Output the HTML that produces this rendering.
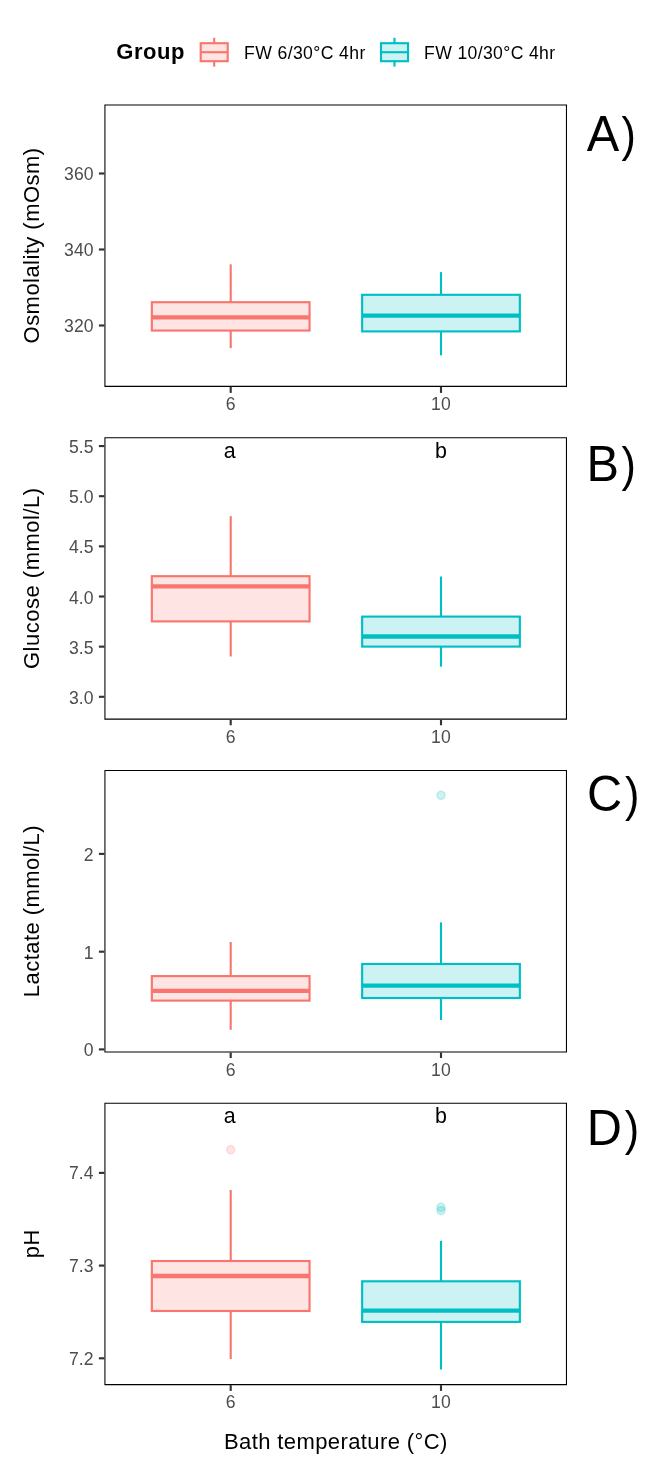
<!DOCTYPE html>
<html><head><meta charset="utf-8"><title>Figure</title>
<style>
html,body{margin:0;padding:0;background:#fff;}
svg{display:block;}
text{font-family:"Liberation Sans",sans-serif;}
.tk{font-size:17.6px;fill:#4D4D4D;letter-spacing:0.15px;}
.ti{font-size:22px;fill:#000;letter-spacing:0.4px;}
.tag{font-size:49.7px;fill:#000;}
.par{font-size:48px;fill:#000;}
.lt{font-size:21.4px;fill:#000;}
.lg{font-size:17.6px;fill:#000;letter-spacing:0.4px;}
.lgt{font-size:22px;font-weight:bold;fill:#000;letter-spacing:0.55px;}
</style></head><body>
<svg width="651" height="1476" viewBox="0 0 651 1476">
<rect x="0" y="0" width="651" height="1476" fill="#fff"/>

<text class="lgt" x="116.3" y="59.3">Group</text>
<g stroke="#F8766D" stroke-width="2.13" fill="none"><line x1="214.2" y1="37.8" x2="214.2" y2="43.2"/><line x1="214.2" y1="61.2" x2="214.2" y2="66.6"/><rect x="200.7" y="43.2" width="27" height="18" fill="#F8766D" fill-opacity="0.2"/><line x1="200.7" y1="52.2" x2="227.7" y2="52.2"/></g>
<text class="lg" x="244" y="58.5">FW 6/30°C 4hr</text>
<g stroke="#00BFC4" stroke-width="2.13" fill="none"><line x1="394.5" y1="37.8" x2="394.5" y2="43.2"/><line x1="394.5" y1="61.2" x2="394.5" y2="66.6"/><rect x="381" y="43.2" width="27" height="18" fill="#00BFC4" fill-opacity="0.2"/><line x1="381" y1="52.2" x2="408" y2="52.2"/></g>
<text class="lg" x="424.1" y="58.5" style="letter-spacing:0.36px">FW 10/30°C 4hr</text>
<!-- panel A -->
<g stroke="#F8766D" stroke-width="2.13" fill="none">
<line x1="230.7" y1="264.3" x2="230.7" y2="302.2"/>
<line x1="230.7" y1="330.55" x2="230.7" y2="348.1"/>
<rect x="151.85" y="302.2" width="157.7" height="28.35" fill="#F8766D" fill-opacity="0.2"/>
<line x1="151.85" y1="317.45" x2="309.55" y2="317.45" stroke-width="4.26"/>
</g>
<g stroke="#00BFC4" stroke-width="2.13" fill="none">
<line x1="441" y1="272.1" x2="441" y2="294.8"/>
<line x1="441" y1="331.4" x2="441" y2="355.3"/>
<rect x="362.15" y="294.8" width="157.7" height="36.6" fill="#00BFC4" fill-opacity="0.2"/>
<line x1="362.15" y1="315.6" x2="519.85" y2="315.6" stroke-width="4.26"/>
</g>
<path fill="#000" fill-rule="evenodd" d="M104.4 104.4H567V386.9H104.4Z M105.47 105.47H565.93V385.83H105.47Z"/>
<line x1="98.9" y1="173.5" x2="104.4" y2="173.5" stroke="#333" stroke-width="2.13"/>
<text class="tk" x="93.8" y="179.7" text-anchor="end">360</text>
<line x1="98.9" y1="249.5" x2="104.4" y2="249.5" stroke="#333" stroke-width="2.13"/>
<text class="tk" x="93.8" y="255.7" text-anchor="end">340</text>
<line x1="98.9" y1="325.5" x2="104.4" y2="325.5" stroke="#333" stroke-width="2.13"/>
<text class="tk" x="93.8" y="331.7" text-anchor="end">320</text>
<line x1="230.7" y1="386.9" x2="230.7" y2="392.9" stroke="#333" stroke-width="2.13"/>
<text class="tk" x="230.7" y="410.3" text-anchor="middle">6</text>
<line x1="441" y1="386.9" x2="441" y2="392.9" stroke="#333" stroke-width="2.13"/>
<text class="tk" x="441" y="410.3" text-anchor="middle">10</text>
<text class="ti" style="letter-spacing:0.45px" transform="translate(38.8,245.45) rotate(-90)" text-anchor="middle">Osmolality (mOsm)</text>
<text class="tag" transform="translate(586.8,151) scale(0.98,1)">A</text>
<text class="par" transform="translate(621.5,151) scale(0.9,1)">)</text>
<!-- panel B -->
<g stroke="#F8766D" stroke-width="2.13" fill="none">
<line x1="230.7" y1="516.1" x2="230.7" y2="576.2"/>
<line x1="230.7" y1="621.4" x2="230.7" y2="656.5"/>
<rect x="151.85" y="576.2" width="157.7" height="45.2" fill="#F8766D" fill-opacity="0.2"/>
<line x1="151.85" y1="586.3" x2="309.55" y2="586.3" stroke-width="4.26"/>
</g>
<g stroke="#00BFC4" stroke-width="2.13" fill="none">
<line x1="441" y1="576.5" x2="441" y2="616.6"/>
<line x1="441" y1="646.6" x2="441" y2="666.7"/>
<rect x="362.15" y="616.6" width="157.7" height="30" fill="#00BFC4" fill-opacity="0.2"/>
<line x1="362.15" y1="636.5" x2="519.85" y2="636.5" stroke-width="4.26"/>
</g>
<text class="lt" x="229.7" y="457.95" text-anchor="middle">a</text>
<text class="lt" x="441" y="457.95" text-anchor="middle">b</text>
<path fill="#000" fill-rule="evenodd" d="M104.4 437.15H567V719.65H104.4Z M105.47 438.22H565.93V718.58H105.47Z"/>
<line x1="98.9" y1="446.05" x2="104.4" y2="446.05" stroke="#333" stroke-width="2.13"/>
<text class="tk" x="93.8" y="453.15" text-anchor="end">5.5</text>
<line x1="98.9" y1="496.2" x2="104.4" y2="496.2" stroke="#333" stroke-width="2.13"/>
<text class="tk" x="93.8" y="503.3" text-anchor="end">5.0</text>
<line x1="98.9" y1="546.35" x2="104.4" y2="546.35" stroke="#333" stroke-width="2.13"/>
<text class="tk" x="93.8" y="553.45" text-anchor="end">4.5</text>
<line x1="98.9" y1="596.5" x2="104.4" y2="596.5" stroke="#333" stroke-width="2.13"/>
<text class="tk" x="93.8" y="603.6" text-anchor="end">4.0</text>
<line x1="98.9" y1="646.65" x2="104.4" y2="646.65" stroke="#333" stroke-width="2.13"/>
<text class="tk" x="93.8" y="653.75" text-anchor="end">3.5</text>
<line x1="98.9" y1="696.8" x2="104.4" y2="696.8" stroke="#333" stroke-width="2.13"/>
<text class="tk" x="93.8" y="703.9" text-anchor="end">3.0</text>
<line x1="230.7" y1="719.65" x2="230.7" y2="725.25" stroke="#333" stroke-width="2.13"/>
<text class="tk" x="230.7" y="743.05" text-anchor="middle">6</text>
<line x1="441" y1="719.65" x2="441" y2="725.25" stroke="#333" stroke-width="2.13"/>
<text class="tk" x="441" y="743.05" text-anchor="middle">10</text>
<text class="ti" style="letter-spacing:0.5px" transform="translate(38.8,578.2) rotate(-90)" text-anchor="middle">Glucose (mmol/L)</text>
<text class="tag" transform="translate(586.4,480.8) scale(0.98,1)">B</text>
<text class="par" transform="translate(621.5,480.8) scale(0.9,1)">)</text>
<!-- panel C -->
<g stroke="#F8766D" stroke-width="2.13" fill="none">
<line x1="230.7" y1="942" x2="230.7" y2="976.1"/>
<line x1="230.7" y1="1000.6" x2="230.7" y2="1029.8"/>
<rect x="151.85" y="976.1" width="157.7" height="24.5" fill="#F8766D" fill-opacity="0.2"/>
<line x1="151.85" y1="990.8" x2="309.55" y2="990.8" stroke-width="4.26"/>
</g>
<circle cx="441" cy="795.35" r="4.1" fill="#00BFC4" fill-opacity="0.2" stroke="#00BFC4" stroke-opacity="0.2" stroke-width="1.4"/>
<g stroke="#00BFC4" stroke-width="2.13" fill="none">
<line x1="441" y1="922.4" x2="441" y2="964"/>
<line x1="441" y1="998" x2="441" y2="1020"/>
<rect x="362.15" y="964" width="157.7" height="34" fill="#00BFC4" fill-opacity="0.2"/>
<line x1="362.15" y1="985.7" x2="519.85" y2="985.7" stroke-width="4.26"/>
</g>
<path fill="#000" fill-rule="evenodd" d="M104.4 770H567V1052.5H104.4Z M105.47 771.07H565.93V1051.43H105.47Z"/>
<line x1="98.9" y1="853.9" x2="104.4" y2="853.9" stroke="#333" stroke-width="2.13"/>
<text class="tk" x="93.8" y="860.95" text-anchor="end">2</text>
<line x1="98.9" y1="951.7" x2="104.4" y2="951.7" stroke="#333" stroke-width="2.13"/>
<text class="tk" x="93.8" y="958.75" text-anchor="end">1</text>
<line x1="98.9" y1="1049.4" x2="104.4" y2="1049.4" stroke="#333" stroke-width="2.13"/>
<text class="tk" x="93.8" y="1056.45" text-anchor="end">0</text>
<line x1="230.7" y1="1052.5" x2="230.7" y2="1058" stroke="#333" stroke-width="2.13"/>
<text class="tk" x="230.7" y="1075.8" text-anchor="middle">6</text>
<line x1="441" y1="1052.5" x2="441" y2="1058" stroke="#333" stroke-width="2.13"/>
<text class="tk" x="441" y="1075.8" text-anchor="middle">10</text>
<text class="ti" style="letter-spacing:0.45px" transform="translate(38.9,911.05) rotate(-90)" text-anchor="middle">Lactate (mmol/L)</text>
<text class="tag" transform="translate(586.9,811.05) scale(0.98,1)">C</text>
<text class="par" transform="translate(624.9,811.05) scale(0.9,1)">)</text>
<!-- panel D -->
<circle cx="230.7" cy="1149.65" r="4.1" fill="#F8766D" fill-opacity="0.2" stroke="#F8766D" stroke-opacity="0.2" stroke-width="1.4"/>
<g stroke="#F8766D" stroke-width="2.13" fill="none">
<line x1="230.7" y1="1190" x2="230.7" y2="1261"/>
<line x1="230.7" y1="1311" x2="230.7" y2="1359"/>
<rect x="151.85" y="1261" width="157.7" height="50" fill="#F8766D" fill-opacity="0.2"/>
<line x1="151.85" y1="1276" x2="309.55" y2="1276" stroke-width="4.26"/>
</g>
<circle cx="441" cy="1207.4" r="4.1" fill="#00BFC4" fill-opacity="0.2" stroke="#00BFC4" stroke-opacity="0.2" stroke-width="1.4"/>
<circle cx="441" cy="1210.7" r="4.1" fill="#00BFC4" fill-opacity="0.2" stroke="#00BFC4" stroke-opacity="0.2" stroke-width="1.4"/>
<g stroke="#00BFC4" stroke-width="2.13" fill="none">
<line x1="441" y1="1240.8" x2="441" y2="1281.3"/>
<line x1="441" y1="1321.9" x2="441" y2="1369.5"/>
<rect x="362.15" y="1281.3" width="157.7" height="40.6" fill="#00BFC4" fill-opacity="0.2"/>
<line x1="362.15" y1="1310.6" x2="519.85" y2="1310.6" stroke-width="4.26"/>
</g>
<text class="lt" x="229.7" y="1122.95" text-anchor="middle">a</text>
<text class="lt" x="441" y="1122.95" text-anchor="middle">b</text>
<path fill="#000" fill-rule="evenodd" d="M104.4 1102.65H567V1385.15H104.4Z M105.47 1103.72H565.93V1384.08H105.47Z"/>
<line x1="98.9" y1="1172.9" x2="104.4" y2="1172.9" stroke="#333" stroke-width="2.13"/>
<text class="tk" x="93.8" y="1179.3" text-anchor="end">7.4</text>
<line x1="98.9" y1="1265.6" x2="104.4" y2="1265.6" stroke="#333" stroke-width="2.13"/>
<text class="tk" x="93.8" y="1272" text-anchor="end">7.3</text>
<line x1="98.9" y1="1358.3" x2="104.4" y2="1358.3" stroke="#333" stroke-width="2.13"/>
<text class="tk" x="93.8" y="1364.7" text-anchor="end">7.2</text>
<line x1="230.7" y1="1385.15" x2="230.7" y2="1390.9" stroke="#333" stroke-width="2.13"/>
<text class="tk" x="230.7" y="1407.65" text-anchor="middle">6</text>
<line x1="441" y1="1385.15" x2="441" y2="1390.9" stroke="#333" stroke-width="2.13"/>
<text class="tk" x="441" y="1407.65" text-anchor="middle">10</text>
<text class="ti" style="letter-spacing:0.4px" transform="translate(39.3,1243.7) rotate(-90)" text-anchor="middle">pH</text>
<text class="tag" transform="translate(586.8,1144.75) scale(0.98,1)">D</text>
<text class="par" transform="translate(624.8,1144.75) scale(0.9,1)">)</text>
<text class="ti" x="335.9" y="1448.6" text-anchor="middle">Bath temperature (°C)</text>
</svg></body></html>
